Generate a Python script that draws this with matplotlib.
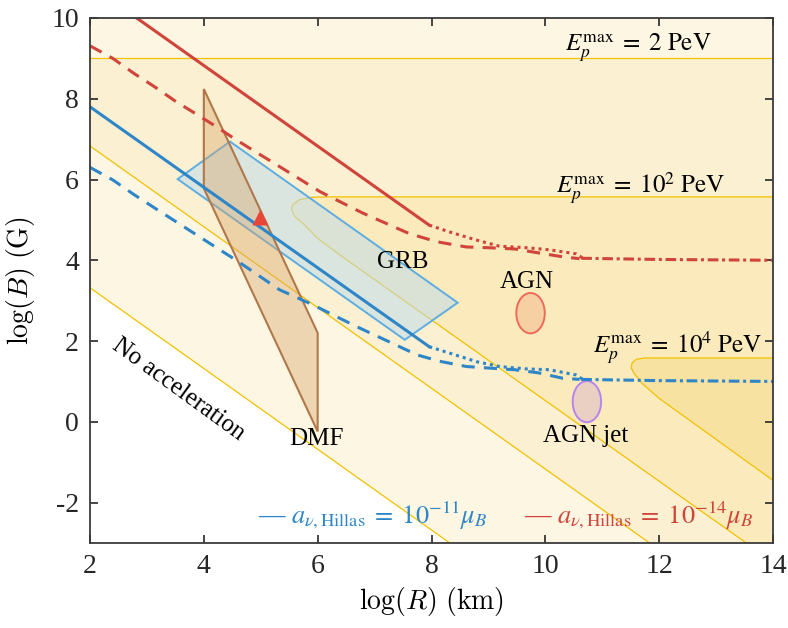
import matplotlib
matplotlib.use("Agg")
import matplotlib.pyplot as plt
from matplotlib.patches import Ellipse, Polygon

plt.rcParams['font.family'] = ['Liberation Serif', 'DejaVu Serif']
plt.rcParams['mathtext.fontset'] = 'stix'
plt.rcParams['axes.unicode_minus'] = False

# axis ranges, log R (km) / log B (G)
xlim = (2, 14)
ylim = (-3, 10)
xticks = [2, 4, 6, 8, 10, 12, 14]
yticks = [-2, 0, 2, 4, 6, 8, 10]

# E_p^max contour boundaries
noacc_R = [2.0, 8.32]
noacc_B = [3.32, -3.0]

e2_diag_R = [2.0, 11.83]
e2_diag_B = [6.83, -3.0]
e2_flat_B = 9.0

e100_R = [14.0, 6.2, 5.9, 5.68, 5.56, 5.54, 5.6, 5.75, 6.0, 6.5, 13.53]
e100_B = [5.57, 5.57, 5.56, 5.5, 5.38, 5.25, 5.08, 4.9, 4.54, 4.02, -3.0]

e1e4_R = [14.0, 11.75, 11.6, 11.52, 11.51, 11.56, 11.7, 12.0, 14.0]
e1e4_B = [1.58, 1.58, 1.55, 1.45, 1.33, 1.2, 0.95, 0.58, -1.45]

# a_nu,Hillas = 1e-14 mu_B (red)
red_solid_R = [2.82, 7.96]
red_solid_B = [10.0, 4.87]
red_dot_R = [7.96, 8.32, 8.79, 9.19, 9.67, 10.07, 10.54, 10.65]
red_dot_B = [4.87, 4.70, 4.50, 4.35, 4.31, 4.26, 4.16, 4.06]
red_dash_R = [2.0, 2.4, 2.78, 3.13, 3.51, 3.89, 4.25, 4.57, 5.33, 6.04, 6.79,
              7.61, 8.09, 8.61, 9.02, 9.46, 9.89, 10.33, 10.6]
red_dash_B = [9.31, 9.0, 8.62, 8.30, 7.93, 7.60, 7.28, 6.98, 6.32, 5.70, 5.17,
              4.66, 4.46, 4.33, 4.31, 4.28, 4.18, 4.08, 4.04]
red_dd_R = [10.63, 12.0, 14.0]
red_dd_B = [4.05, 4.02, 4.0]

# a_nu,Hillas = 1e-11 mu_B (blue)
blue_solid_R = [2.0, 7.96]
blue_solid_B = [7.8, 1.86]
blue_dot_R = [7.96, 8.32, 8.79, 9.19, 9.67, 10.07, 10.54, 10.65]
blue_dot_B = [1.86, 1.70, 1.49, 1.37, 1.31, 1.29, 1.16, 1.06]
blue_dash_R = [2.0, 2.4, 2.78, 3.13, 4.28, 4.57, 5.33, 5.91, 6.68, 7.44, 7.74,
               8.14, 8.61, 9.02, 9.46, 9.89, 10.30, 10.6]
blue_dash_B = [6.30, 5.99, 5.62, 5.30, 4.26, 4.0, 3.27, 2.90, 2.36, 1.86, 1.66,
               1.50, 1.37, 1.33, 1.29, 1.21, 1.08, 1.05]
blue_dd_R = [10.63, 12.0, 14.0]
blue_dd_B = [1.05, 1.02, 1.0]

# sources
grb_R = [3.54, 4.46, 8.46, 7.53]
grb_B = [6.01, 6.94, 2.95, 2.03]
dmf_R = [4.0, 4.0, 6.0, 6.0]
dmf_B = [8.24, 5.78, -0.24, 2.2]
star_R, star_B = 4.98, 5.07
agn = (9.74, 2.69, 0.5, 1.0)
agn_jet = (10.73, 0.5, 0.5, 1.02)

c1, c2, c3, c4 = '#FDF6E2', '#FBF0D1', '#FAEABC', '#F8E2A2'
cline = '#F2C100'
red = '#D0443B'
blue = '#2E86C8'

fig = plt.figure(figsize=(7.88, 6.28), dpi=100)
ax = fig.add_axes([0.1142, 0.1354, 0.8668, 0.836])

# background regions
ax.fill([xlim[0], xlim[1], xlim[1], xlim[0]], [ylim[0], ylim[0], ylim[1], ylim[1]],
        color=c1, lw=0, zorder=0)
ax.fill(noacc_R + [xlim[0]], noacc_B + [ylim[0]], color='white', lw=0, zorder=0.5)
ax.fill(e2_diag_R + [xlim[1], xlim[1], xlim[0]],
        e2_diag_B + [ylim[0], e2_flat_B, e2_flat_B], color=c2, lw=0, zorder=0.6)
ax.fill(e100_R + [xlim[1]], e100_B + [ylim[0]], color=c3, lw=0, zorder=0.7)
ax.fill(e1e4_R, e1e4_B, color=c4, lw=0, zorder=0.8)
for xs, ys in [(noacc_R, noacc_B), (e2_diag_R, e2_diag_B), (e100_R, e100_B),
               (e1e4_R, e1e4_B), (list(xlim), [e2_flat_B, e2_flat_B])]:
    ax.plot(xs, ys, color=cline, lw=0.9, zorder=1)

# sources
ax.add_patch(Polygon(list(zip(grb_R, grb_B)), closed=True, facecolor='#BFDCEB',
                     alpha=0.55, edgecolor='none', zorder=2))
ax.add_patch(Polygon(list(zip(grb_R, grb_B)), closed=True, facecolor='none',
                     edgecolor='#5DADE2', lw=1.4, zorder=2.1))
ax.add_patch(Polygon(list(zip(dmf_R, dmf_B)), closed=True, facecolor='#D9A56A',
                     alpha=0.4, edgecolor='none', zorder=2.2))
ax.add_patch(Polygon(list(zip(dmf_R, dmf_B)), closed=True, facecolor='none',
                     edgecolor='#B0784A', lw=1.5, zorder=2.3))
ax.add_patch(Ellipse(agn[:2], agn[2], agn[3], facecolor='#F6CFA2',
                     edgecolor='#EE6B5C', lw=1.4, zorder=2.5))
ax.add_patch(Ellipse(agn_jet[:2], agn_jet[2], agn_jet[3], facecolor='#E9D0C2',
                     edgecolor='#B884F0', lw=1.4, zorder=2.5))

# curves
lw = 2.2
ax.plot(red_solid_R, red_solid_B, color=red, lw=lw, zorder=3)
ax.plot(red_dot_R, red_dot_B, color=red, lw=lw, dashes=(1, 1.3), zorder=3)
ax.plot(red_dash_R, red_dash_B, color=red, lw=lw, dashes=(4.3, 3), zorder=3)
ax.plot(red_dd_R, red_dd_B, color=red, lw=lw, dashes=(3.5, 1.2, 1, 1.2), zorder=3)
ax.plot(blue_solid_R, blue_solid_B, color=blue, lw=lw, zorder=3)
ax.plot(blue_dot_R, blue_dot_B, color=blue, lw=lw, dashes=(1, 1.3), zorder=3)
ax.plot(blue_dash_R, blue_dash_B, color=blue, lw=lw, dashes=(4.3, 3), zorder=3)
ax.plot(blue_dd_R, blue_dd_B, color=blue, lw=lw, dashes=(3.5, 1.2, 1, 1.2), zorder=3)
ax.plot([star_R], [star_B], marker='^', ms=11, color='#E8463A', mec='none', zorder=4)

# labels
fs = 18
ax.text(11.63, 9.28, r'$E_p^{\max}\;=\;2\ \mathrm{PeV}$', fontsize=fs, ha='center', va='center', zorder=5)
ax.text(11.68, 5.79, r'$E_p^{\max}\;=\;10^2\ \mathrm{PeV}$', fontsize=fs, ha='center', va='center', zorder=5)
ax.text(12.33, 1.83, r'$E_p^{\max}\;=\;10^4\ \mathrm{PeV}$', fontsize=fs, ha='center', va='center', zorder=5)
ax.text(7.49, 3.96, 'GRB', fontsize=fs, ha='center', va='center', zorder=5)
ax.text(9.67, 3.47, 'AGN', fontsize=fs, ha='center', va='center', zorder=5)
ax.text(10.70, -0.35, 'AGN jet', fontsize=fs, ha='center', va='center', zorder=5)
ax.text(5.98, -0.42, 'DMF', fontsize=fs, ha='center', va='center', zorder=5)
ax.text(3.56, 0.79, 'No acceleration', fontsize=fs, ha='center', va='center',
        rotation=-36, rotation_mode='anchor', zorder=5)
ax.text(6.97, -2.3, r'— $a_{\nu,\mathrm{Hillas}}\;=\;10^{-11}\mu_B$', fontsize=19,
        fontweight='bold', color=blue, ha='center', va='center', zorder=5)
ax.text(11.64, -2.3, r'— $a_{\nu,\mathrm{Hillas}}\;=\;10^{-14}\mu_B$', fontsize=19,
        fontweight='bold', color=red, ha='center', va='center', zorder=5)

ax.set_xlim(*xlim)
ax.set_ylim(*ylim)
ax.set_xticks(xticks)
ax.set_yticks(yticks)
ax.set_xticklabels([str(t) for t in xticks])
ax.set_yticklabels([str(t) for t in yticks])
ax.tick_params(direction='in', length=6, width=1.2, top=True, right=True,
               labelsize=20, colors='#262626', pad=8)
for s in ax.spines.values():
    s.set_color('#3A3A3A')
    s.set_linewidth(1.3)
    s.set_zorder(6)
ax.set_xlabel(r'$\log(R)\ (\mathrm{km})$', fontsize=20, math_fontfamily='cm', labelpad=4)
ax.set_ylabel(r'$\log(B)\ (\mathrm{G})$', fontsize=20, math_fontfamily='cm', labelpad=10)

fig.savefig('out.png', dpi=100)
